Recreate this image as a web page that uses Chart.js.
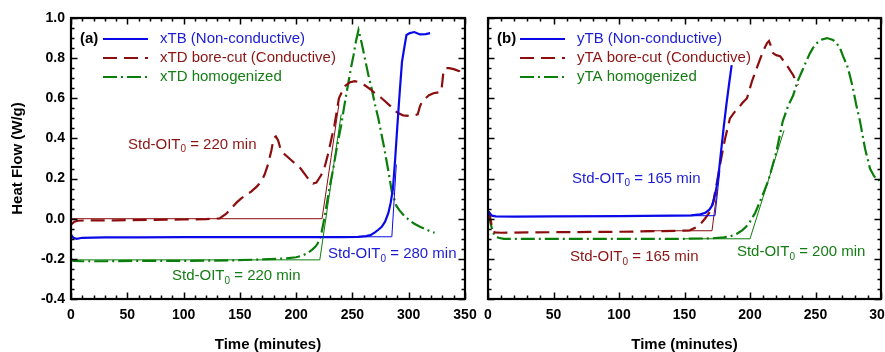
<!DOCTYPE html>
<html><head><meta charset="utf-8">
<script src="https://cdn.jsdelivr.net/npm/chart.js@4.4.1/dist/chart.umd.min.js"></script>
<style>
html,body{margin:0;padding:0;background:#fff;}
#wrap{position:relative;width:885px;height:352px;overflow:hidden;background:#fff;}
#ca{position:absolute;left:0;top:0;}
#cb{position:absolute;left:480px;top:0;}
</style></head><body>
<div id="wrap"><canvas id="ca" width="480" height="352"></canvas><canvas id="cb" width="405" height="352"></canvas></div>
<script>
// ---------- DATA (time in minutes, heat flow in W/g) ----------
const xTicksA = [0, 50, 100, 150, 200, 250, 300, 350];
const xTicksB = [0, 50, 100, 150, 200, 250, 300];
const yTicks = [-0.4, -0.2, 0.0, 0.2, 0.4, 0.6, 0.8, 1.0];

const seriesNamesA = ['xTB (Non-conductive)', 'xTD bore-cut (Conductive)', 'xTD homogenized'];
const seriesNamesB = ['yTB (Non-conductive)', 'yTA bore-cut (Conductive)', 'yTA homogenized'];

// panel (a)
const xTB = [[0,-0.08],[2,-0.095],[5,-0.1],[10,-0.095],[30,-0.093],[60,-0.093],[100,-0.092],[150,-0.092],[200,-0.092],[240,-0.092],[255,-0.09],[262,-0.087],[266,-0.082],[270,-0.068],[273,-0.055],[276,-0.04],[279,-0.015],[282,0.03],[284,0.08],[286,0.15],[288,0.3],[290,0.47],[292,0.63],[294,0.78],[296,0.85],[298,0.915],[301,0.925],[305,0.93],[310,0.918],[315,0.92],[319,0.925]];
const xTD_bore = [[0,-0.03],[3,-0.015],[6,-0.01],[15,-0.008],[40,-0.008],[70,-0.006],[100,-0.004],[120,-0.002],[132,0.002],[138,0.025],[142,0.05],[147,0.08],[151,0.1],[156,0.12],[160,0.135],[165,0.16],[169,0.185],[172,0.22],[175,0.27],[178,0.34],[180,0.4],[182,0.41],[184,0.39],[186,0.35],[188,0.33],[192,0.31],[196,0.29],[200,0.27],[204,0.25],[208,0.22],[212,0.19],[215,0.175],[218,0.18],[222,0.215],[225,0.25],[228,0.315],[231,0.39],[234,0.465],[238,0.6],[243,0.66],[248,0.68],[252,0.685],[256,0.68],[261,0.665],[266,0.645],[270,0.625],[275,0.605],[279,0.585],[283,0.565],[287,0.54],[291,0.525],[295,0.515],[300,0.512],[305,0.515],[308,0.52],[310,0.56],[312,0.585],[315,0.6],[318,0.615],[322,0.625],[327,0.63],[329,0.635],[331,0.74],[333,0.75],[336,0.75],[340,0.745],[345,0.735],[350,0.7]];
const xTD_homog = [[0,-0.2],[2,-0.21],[10,-0.212],[30,-0.212],[60,-0.21],[100,-0.21],[140,-0.208],[170,-0.203],[190,-0.198],[200,-0.192],[205,-0.185],[210,-0.172],[214,-0.155],[217,-0.14],[219,-0.125],[222,-0.085],[225,0.0],[229.5,0.15],[233,0.25],[236,0.35],[240,0.465],[243,0.57],[246,0.665],[249,0.76],[251,0.815],[253,0.88],[255.4,0.94],[258,0.88],[261,0.8],[264,0.72],[267,0.65],[270,0.57],[273,0.5],[275.5,0.43],[278,0.36],[282,0.235],[285,0.135],[289,0.065],[292,0.04],[296,0.015],[300,-0.005],[305,-0.025],[310,-0.04],[314,-0.05],[318,-0.06],[323,-0.07]];
const xTB_tangent = [[200,-0.09],[285,-0.09],[289,0.27]];
const xTD_bore_tangent = [[0,0.0],[223,0.0],[238,0.57]];
const xTD_homog_tangent = [[0,-0.205],[221,-0.205],[240,0.52]];

// panel (b)
const yTB = [[0,0.02],[1,0.03],[3,0.015],[6,0.012],[20,0.01],[50,0.012],[100,0.013],[140,0.015],[155,0.017],[162,0.022],[166,0.03],[169,0.045],[171,0.065],[172,0.085],[174,0.14],[176,0.22],[178,0.34],[180,0.46],[182,0.57],[184,0.67],[186,0.765]];
const yTA_bore = [[0,0.035],[1,0.03],[3,-0.04],[5,-0.068],[10,-0.07],[30,-0.068],[60,-0.067],[100,-0.065],[130,-0.062],[146,-0.06],[154,-0.058],[160,-0.04],[163,-0.02],[165.6,0.0],[169.5,0.035],[172,0.085],[175,0.19],[178,0.3],[181,0.4],[184.7,0.5],[188,0.53],[191,0.55],[194,0.575],[197.7,0.6],[201.5,0.685],[206,0.765],[210,0.835],[213,0.875],[214.5,0.885],[216,0.86],[217.6,0.825],[220,0.815],[223,0.81],[228,0.765],[233,0.715],[236.6,0.665]];
const yTA_homog = [[0,0.015],[1.5,-0.01],[3,-0.05],[5,-0.085],[8,-0.095],[12,-0.1],[40,-0.1],[80,-0.1],[120,-0.1],[150,-0.1],[170,-0.098],[180,-0.093],[185,-0.088],[190,-0.075],[194,-0.058],[197,-0.04],[200,-0.015],[204,0.03],[207.6,0.085],[211,0.14],[214,0.19],[217,0.26],[220,0.33],[225,0.485],[229,0.56],[233,0.615],[236,0.68],[239.7,0.735],[243,0.785],[245.8,0.825],[248,0.85],[251,0.875],[255,0.893],[258.8,0.9],[263.4,0.89],[266,0.875],[268.7,0.85],[271,0.81],[274,0.765],[276,0.72],[278.6,0.65],[281,0.57],[284,0.485],[287.8,0.35],[291.6,0.25],[294,0.22],[296,0.2],[297.5,0.19],[299,0.195],[300,0.205]];
const yTB_tangent = [[130,0.015],[173.3,0.015],[177,0.24]];
const yTA_bore_tangent = [[120,-0.06],[171,-0.06],[175,0.15]];
const yTA_homog_tangent = [[150,-0.1],[200,-0.1],[226,0.44]];

// Std-OIT0 labels: [series index, minutes value, time anchor, heat-flow anchor]
const oitA = [[1, '220', 50.6, 0.37], [0, '280', 228.3, -0.175], [2, '220', 89.7, -0.285]];
const oitB = [[0, '165', 64.1, 0.2], [1, '165', 62.6, -0.19], [2, '200', 190, -0.165]];

// ---------- STYLE ----------
const LINE = ['#0a0ae8', '#8b0d0d', '#0b7d0b'];
const TEXT = ['#1c1cd2', '#8b1515', '#157d15'];
const DASH = [[], [14, 7], [14, 4, 2, 4]];
const FONT = '"Liberation Sans", Arial, sans-serif';

function pts(a){ return a.map(p => ({x:p[0], y:p[1]})); }
function mainDs(d, i){ return {data:pts(d), borderColor:LINE[i], borderWidth:2.2, borderDash:DASH[i], pointRadius:0, fill:false, tension:0}; }
function tanDs(d, i){ return {data:pts(d), borderColor:LINE[i], borderWidth:1, pointRadius:0, fill:false, tension:0}; }

function deco(tag, names, oit){
  return {
    id: 'deco',
    afterDatasetsDraw(chart){
      const ctx = chart.ctx, a = chart.chartArea, xs = chart.scales.x, ys = chart.scales.y;
      ctx.save();
      ctx.strokeStyle = '#000';
      ctx.lineWidth = 1.5;
      ctx.beginPath();
      for (let v = xs.min; v <= xs.max + 1e-9; v += 10){
        const major = Math.round(v) % 50 === 0, L = major ? 6.5 : 3.5;
        const px = Math.round(xs.getPixelForValue(v)) + 0.5;
        ctx.moveTo(px, a.bottom); ctx.lineTo(px, a.bottom - L);
        ctx.moveTo(px, a.top); ctx.lineTo(px, a.top + L);
      }
      for (let i = 0; i <= 28; i++){
        const v = -0.4 + i * 0.05, major = i % 4 === 0, L = major ? 6.5 : 3.5;
        const py = Math.round(ys.getPixelForValue(v)) + 0.5;
        ctx.moveTo(a.left, py); ctx.lineTo(a.left + L, py);
        ctx.moveTo(a.right, py); ctx.lineTo(a.right - L, py);
      }
      ctx.stroke();
      ctx.lineWidth = 2.2;
      ctx.strokeRect(a.left, a.top, a.right - a.left, a.bottom - a.top);
      ctx.fillStyle = '#000';
      ctx.font = 'bold 15px ' + FONT;
      ctx.textBaseline = 'middle';
      ctx.fillText(tag, a.left + 9, a.top + 21);
      ctx.font = '15px ' + FONT;
      for (let i = 0; i < 3; i++){
        const y = a.top + 21 + i * 19;
        ctx.strokeStyle = LINE[i]; ctx.lineWidth = 2.2; ctx.setLineDash(DASH[i]);
        ctx.beginPath(); ctx.moveTo(a.left + 32, y); ctx.lineTo(a.left + 77, y); ctx.stroke();
        ctx.setLineDash([]);
        ctx.fillStyle = TEXT[i];
        ctx.fillText(names[i], a.left + 89, y);
      }
      for (const [ci, val, t, h] of oit){
        let x = xs.getPixelForValue(t);
        const y = ys.getPixelForValue(h);
        ctx.fillStyle = TEXT[ci];
        ctx.font = '15px ' + FONT;
        ctx.fillText('Std-OIT', x, y); x += ctx.measureText('Std-OIT').width;
        ctx.font = '10px ' + FONT;
        ctx.fillText('0', x, y + 5); x += ctx.measureText('0').width;
        ctx.font = '15px ' + FONT;
        ctx.fillText(' = ' + val + ' min', x, y);
      }
      ctx.restore();
    }
  };
}

function makeChart(id, datasets, xTicks, opts){
  const tickFont = {family: FONT, size: 14, weight: 'bold'};
  const titleFont = {family: FONT, size: 15, weight: 'bold', lineHeight: 1};
  return new Chart(document.getElementById(id), {
    type: 'line',
    data: {datasets},
    options: {
      responsive: false, animation: false, devicePixelRatio: 1,
      layout: {padding: {left: 0, right: opts.padRight, top: 18, bottom: 0}},
      plugins: {legend: {display: false}, tooltip: {enabled: false}},
      scales: {
        x: {
          type: 'linear', min: xTicks[0], max: xTicks[xTicks.length - 1],
          afterBuildTicks: s => { s.ticks = xTicks.map(v => ({value: v})); },
          ticks: {autoSkip: false, maxRotation: 0, padding: 8, color: '#000', font: tickFont, callback: v => String(v)},
          grid: {display: false, drawTicks: false}, border: {display: false},
          title: {display: true, text: 'Time (minutes)', color: '#000', font: titleFont, padding: {top: 0, bottom: 0}},
          afterFit: s => { s.height = 53; s.paddingLeft = 0; s.paddingRight = 0; }
        },
        y: {
          type: 'linear', min: yTicks[0], max: yTicks[yTicks.length - 1],
          afterBuildTicks: s => { s.ticks = yTicks.map(v => ({value: v})); },
          ticks: {display: opts.showY, padding: 6, color: '#000', font: tickFont, callback: v => (Math.abs(v) < 1e-9 ? 0 : v).toFixed(1)},
          grid: {display: false, drawTicks: false}, border: {display: false},
          title: {display: opts.showY, text: 'Heat Flow (W/g)', color: '#000', font: titleFont, padding: {top: 10.5, bottom: 0}},
          afterFit: s => { s.width = opts.yWidth; s.paddingTop = 0; s.paddingBottom = 0; }
        }
      }
    },
    plugins: [deco(opts.tag, opts.names, opts.oit)]
  });
}

makeChart('ca', [
  tanDs(xTB_tangent, 0), tanDs(xTD_bore_tangent, 1), tanDs(xTD_homog_tangent, 2),
  mainDs(xTB, 0), mainDs(xTD_bore, 1), mainDs(xTD_homog, 2)
], xTicksA, {padRight: 15, showY: true, yWidth: 71, tag: '(a)', names: seriesNamesA, oit: oitA});

makeChart('cb', [
  tanDs(yTB_tangent, 0), tanDs(yTA_bore_tangent, 1), tanDs(yTA_homog_tangent, 2),
  mainDs(yTB, 0), mainDs(yTA_bore, 1), mainDs(yTA_homog, 2)
], xTicksB, {padRight: 4, showY: false, yWidth: 8, tag: '(b)', names: seriesNamesB, oit: oitB});
</script>
</body></html>
